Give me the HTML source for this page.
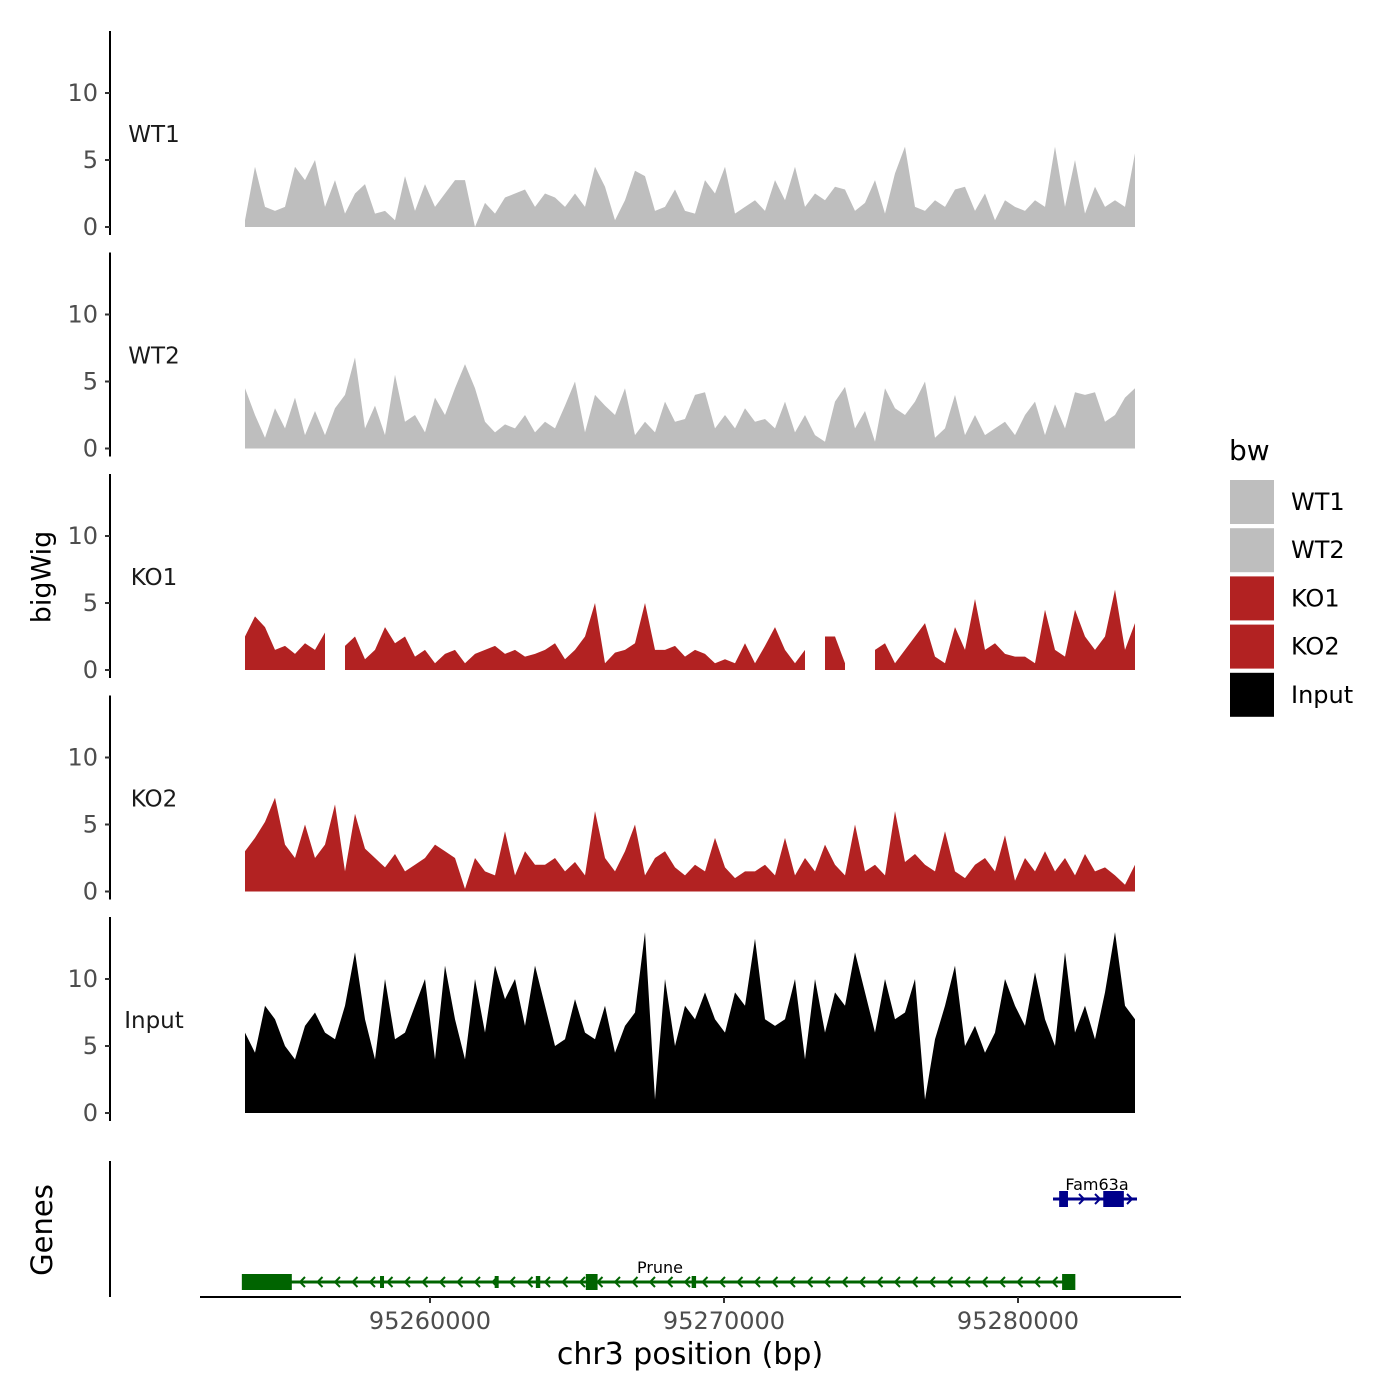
<!DOCTYPE html>
<html><head><meta charset="utf-8"><style>
html,body{margin:0;padding:0;background:#fff;}
svg{display:block;font-family:"DejaVu Sans","Liberation Sans",sans-serif;}
</style></head><body>
<svg id="chart" width="1400" height="1400" viewBox="0 0 1400 1400">
<g id="tracks"></g>
<g id="genes"></g>
<g id="legend"></g>
<text x="42" y="577" font-size="27" text-anchor="middle" transform="rotate(-90 42 577)" dominant-baseline="central">bigWig</text>
<text x="42" y="1230" font-size="29" text-anchor="middle" transform="rotate(-90 42 1230)" dominant-baseline="central">Genes</text>
<text x="690" y="1364" font-size="30" text-anchor="middle">chr3 position (bp)</text>
</svg>
<script>
const trackNames = ["WT1","WT2","KO1","KO2","Input"];
const trackColors = ["#bebebe","#bebebe","#b22222","#b22222","#000000"];
const yTicks = [0,5,10];
const xTicks = [95260000,95270000,95280000];
const wt1 = [0.5,4.5,1.5,1.2,1.5,4.5,3.5,5,1.5,3.5,1,2.5,3.2,1,1.2,0.5,3.8,1.2,3.2,1.5,2.5,3.5,3.5,0,1.8,1,2.2,2.5,2.8,1.5,2.5,2.2,1.5,2.5,1.5,4.5,3,0.5,2,4.2,3.8,1.2,1.5,2.8,1.2,1,3.5,2.5,4.5,1,1.5,2,1.2,3.5,2,4.5,1.5,2.5,2,3,2.8,1.2,1.8,3.5,1,4,6,1.5,1.2,2,1.5,2.8,3,1.2,2.5,0.5,2,1.5,1.2,2,1.5,6,1.5,5,1,3,1.5,2,1.5,5.5];
const wt2 = [4.5,2.5,0.8,3,1.5,3.8,1,2.8,1,3,4,6.8,1.5,3.2,1,5.5,2,2.5,1.2,3.8,2.5,4.5,6.3,4.5,2,1.2,1.8,1.5,2.5,1.2,2,1.5,3.2,5,1.2,4,3.2,2.5,4.5,1,2,1.2,3.5,2,2.2,4,4.2,1.5,2.5,1.5,3,2,2.2,1.5,3.5,1.2,2.5,1,0.5,3.5,4.6,1.5,2.8,0.5,4.5,3,2.5,3.5,5,0.8,1.5,4,1,2.5,1,1.5,2,1,2.5,3.5,1,3.3,1.5,4.2,4,4.2,2,2.5,3.8,4.5];
const ko1 = [2.5,4,3.2,1.5,1.8,1.2,2,1.5,2.8,null,1.8,2.5,0.8,1.5,3.2,2,2.5,1,1.5,0.5,1.2,1.5,0.5,1.2,1.5,1.8,1.2,1.5,1,1.2,1.5,2,0.8,1.5,2.5,5,0.5,1.3,1.5,2,5,1.5,1.5,1.8,1,1.5,1.2,0.5,0.8,0.5,2,0.5,1.8,3.2,1.5,0.5,1.5,null,2.5,2.5,0.5,null,null,1.5,2,0.5,1.5,2.5,3.5,1,0.5,3.2,1.5,5.3,1.5,2,1.2,1,1,0.5,4.5,1.5,1,4.5,2.5,1.5,2.5,6,1.5,3.5];
const ko2 = [3,4,5.2,7,3.5,2.5,5,2.5,3.5,6.5,1.5,5.8,3.2,2.5,1.8,2.8,1.5,2,2.5,3.5,3,2.5,0.2,2.5,1.5,1.2,4.5,1.2,3,2,2,2.5,1.5,2.2,1.2,6,2.5,1.5,3,5,1.2,2.5,3,1.8,1.2,2,1.5,4,1.8,1,1.5,1.5,2,1.2,4,1.2,2.5,1.5,3.5,2,1.2,5,1.5,2,1.2,6,2.2,2.8,2,1.5,4.5,1.5,1,2,2.5,1.5,4.2,0.8,2.5,1.5,3,1.5,2.5,1.2,2.8,1.5,1.8,1.2,0.5,2];
const inputTrack = [6,4.5,8,7,5,4,6.5,7.5,6,5.5,8,12,7,4,10,5.5,6,8,10,4,11,7,4,10,6,11,8.5,10,6.5,11,8,5,5.5,8.5,6,5.5,8,4.5,6.5,7.5,13.5,1,10,5,8,7,9,7,6,9,8,13,7,6.5,7,10,4,10,6,9,8,12,9,6,10,7,7.5,10,1,5.5,8,11,5,6.5,4.5,6,10,8,6.5,10.5,7,5,12,6,8,5.5,9,13.5,8,7];
const trackData = [wt1,wt2,ko1,ko2,inputTrack];
const geneExons = [[95253600,95255300],[95258300,95258400],[95262200,95262300],[95263600,95263750],[95265300,95265700],[95268900,95269050],[95281500,95281950]];
const famExons = [[95281400,95281700],[95282900,95283600]];

const NS="http://www.w3.org/2000/svg";
const X0=245,X1=1135;
function xpos(bp){return 430+(bp-95260000)*294/10000;}
function ixpos(i,n){return X0+i*(X1-X0)/(n-1);}
function mk(tag,attrs,parent){const e=document.createElementNS(NS,tag);for(const k in attrs)e.setAttribute(k,attrs[k]);parent.appendChild(e);return e;}
const tracks=document.getElementById('tracks');
trackNames.forEach((nm,t)=>{
  const base=227+t*221.5;
  const yv=v=>base-v*13.4;
  const g=mk('g',{},tracks);
  
  
  const ax=mk('line',{x1:110,x2:110,y1:base-196,y2:base+8,stroke:'#000','stroke-width':2},g);
  
  
  yTicks.forEach(v=>{
    const tk=mk('line',{x1:105,x2:110,y1:yv(v),y2:yv(v),stroke:'#333','stroke-width':2},g);
    
    
    const tl=mk('text',{x:98,y:yv(v)+8,'font-size':24,'text-anchor':'end',fill:'#4d4d4d'},g);
    tl.textContent=v;
    
    
  });
  const lb=mk('text',{x:154,y:base-85,'font-size':23,'text-anchor':'middle',fill:'#1a1a1a'},g);
  lb.textContent=nm;
  
  
  const d=trackData[t];const n=d.length;
  let seg=[];
  const flush=()=>{if(seg.length){let p=`M${ixpos(seg[0],n)},${base}`;seg.forEach(i=>p+=`L${ixpos(i,n)},${yv(d[i])}`);p+=`L${ixpos(seg[seg.length-1],n)},${base}Z`;
    const a=mk('path',{d:p,fill:trackColors[t]},g);
    
    }seg=[];};
  d.forEach((v,i)=>{if(v===null)flush();else seg.push(i);});flush();
});
const gg=document.getElementById('genes');
let l=mk('line',{x1:110,x2:110,y1:1161,y2:1297,stroke:'#000','stroke-width':2},gg);


l=mk('line',{x1:200,x2:1181,y1:1297,y2:1297,stroke:'#000','stroke-width':2},gg);


xTicks.forEach(v=>{
  const tk=mk('line',{x1:xpos(v),x2:xpos(v),y1:1297,y2:1303,stroke:'#333','stroke-width':2},gg);
  
  
  const t=mk('text',{x:xpos(v),y:1329,'font-size':24,'text-anchor':'middle',fill:'#4d4d4d'},gg);
  t.textContent=v;
  
  
});
const pr=mk('g',{},gg);


mk('line',{x1:245,x2:1072,y1:1282,y2:1282,stroke:'#006400','stroke-width':3},pr);
for(let x=300;x<1060;x+=17.5){mk('path',{d:`M${x+5},${1277}L${x},${1282}L${x+5},${1287}`,stroke:'#006400','stroke-width':2,fill:'none'},pr);}
geneExons.forEach(e=>{const a=xpos(e[0]),b=xpos(e[1]);const big=b-a>8;mk('rect',{x:a,y:big?1274:1276,width:Math.max(b-a,4),height:big?16:12,fill:'#006400'},pr);});
let t=mk('text',{x:660,y:1273,'font-size':16,'text-anchor':'middle'},pr);t.textContent='Prune';
const fm=mk('g',{},gg);


mk('line',{x1:1053,x2:1137,y1:1199,y2:1199,stroke:'#00008b','stroke-width':3},fm);
for(let x=1068;x<1140;x+=16){mk('path',{d:`M${x-5},1194L${x},1199L${x-5},1204`,stroke:'#00008b','stroke-width':2,fill:'none'},fm);}
famExons.forEach(e=>{mk('rect',{x:xpos(e[0]),y:1191,width:xpos(e[1])-xpos(e[0]),height:16,fill:'#00008b'},fm);});
t=mk('text',{x:1097,y:1190,'font-size':16,'text-anchor':'middle'},fm);t.textContent='Fam63a';
const lg=document.getElementById('legend');
t=mk('text',{x:1229,y:460,'font-size':28},lg);t.textContent='bw';


trackNames.forEach((nm,i)=>{
  const e=mk('g',{},lg);
  
  
  mk('rect',{x:1230,y:480+i*48.2,width:44,height:44,fill:trackColors[i]},e);
  const tx=mk('text',{x:1291,y:510+i*48.2,'font-size':24},e);tx.textContent=nm;
});
</script>
</body></html>
